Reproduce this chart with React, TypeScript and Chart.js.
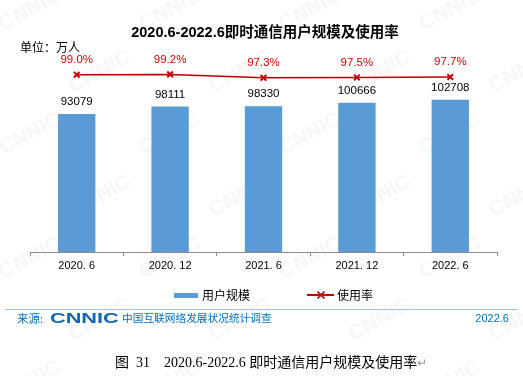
import React, { useEffect, useRef } from "react";
import { Chart, registerables } from "chart.js";

Chart.register(...registerables);

const categories = ["2020. 6", "2020. 12", "2021. 6", "2021. 12", "2022. 6"];
const users = [93079, 98111, 98330, 100666, 102708];
const rates = [99.0, 99.2, 97.3, 97.5, 97.7];
const seriesNames = ["用户规模", "使用率"];
const titleText = "2020.6-2022.6即时通信用户规模及使用率";
const unitText = "单位：万人";
const sourceLabel = "来源:";
const sourceName = "中国互联网络发展状况统计调查";
const sourceDate = "2022.6";
const captionText = "图  31    2020.6-2022.6 即时通信用户规模及使用率";

const BAR_COLOR = "#5B9BD5";
const LINE_COLOR = "#C00000";
const LABEL_RED = "#D00000";
const BLUE_TEXT = "#0070C0";
const SANS = "'Liberation Sans', Arial, 'Noto Sans CJK SC', sans-serif";
const CJK = "'Noto Sans CJK SC', 'Liberation Sans', sans-serif";

const watermarkPlugin = {
  id: "watermark",
  beforeDraw(chart: any) {
    const ctx = chart.ctx;
    ctx.save();
    ctx.fillStyle = "rgba(0,0,0,0.035)";
    ctx.font = "bold 21px " + SANS;
    ctx.textAlign = "center";
    ctx.textBaseline = "middle";
    let row = 0;
    for (let y = 10; y < 420; y += 62) {
      const off = row % 2 === 0 ? 0 : 70;
      for (let x = 30 + off - 140; x < 600; x += 140) {
        ctx.save();
        ctx.translate(x, y);
        ctx.rotate(-0.5);
        ctx.fillText("CNNIC", 0, 0);
        ctx.restore();
      }
      row++;
    }
    ctx.restore();
  },
};

const valueLabelPlugin = {
  id: "valueLabels",
  afterDatasetsDraw(chart: any) {
    const ctx = chart.ctx;
    ctx.save();
    ctx.textAlign = "center";
    ctx.textBaseline = "middle";
    ctx.font = "11.5px " + SANS;
    ctx.fillStyle = "#000";
    chart.getDatasetMeta(0).data.forEach((b: any, i: number) => {
      ctx.fillText(String(users[i]), b.x, b.y - 12);
    });
    ctx.fillStyle = LABEL_RED;
    chart.getDatasetMeta(1).data.forEach((p: any, i: number) => {
      ctx.fillText(rates[i].toFixed(1) + "%", p.x, p.y - 15);
    });
    ctx.restore();
  },
};

function ChartCanvas() {
  const ref = useRef<HTMLCanvasElement | null>(null);
  useEffect(() => {
    if (!ref.current) return;
    const chart = new Chart(ref.current, {
      type: "bar",
      data: {
        labels: categories,
        datasets: [
          {
            type: "bar",
            label: seriesNames[0],
            data: users,
            backgroundColor: BAR_COLOR,
            yAxisID: "y",
            barPercentage: 0.4,
            categoryPercentage: 1,
            order: 2,
          } as any,
          {
            type: "line",
            label: seriesNames[1],
            data: rates,
            borderColor: LINE_COLOR,
            borderWidth: 1.5,
            pointStyle: "crossRot",
            pointRadius: 4,
            pointBorderColor: LINE_COLOR,
            pointBorderWidth: 2,
            pointBackgroundColor: LINE_COLOR,
            yAxisID: "y2",
            order: 1,
          } as any,
        ],
      },
      options: {
        animation: false,
        responsive: false,
        devicePixelRatio: 1,
        layout: { padding: { left: 30, right: 26, top: 52, bottom: 100.8 } },
        plugins: {
          legend: { display: false },
          title: { display: false },
          tooltip: { enabled: false },
        },
        scales: {
          x: {
            grid: {
              display: true,
              drawOnChartArea: false,
              offset: true,
              tickLength: 4,
              color: "#8c8c8c",
            },
            border: { color: "#8c8c8c", width: 1 },
            ticks: {
              color: "#000",
              padding: 3,
              font: { size: 11, family: SANS },
            },
          },
          y: { display: false, min: 0, max: 134862 },
          y2: { display: false, min: 0, max: 111.7, position: "right" },
        },
      } as any,
      plugins: [watermarkPlugin, valueLabelPlugin],
    });
    return () => chart.destroy();
  }, []);
  return (
    <canvas
      ref={ref}
      width={523}
      height={376}
      style={{ position: "absolute", left: 0, top: 0, width: 523, height: 376 }}
    />
  );
}

const abs = (s: React.CSSProperties): React.CSSProperties => ({
  position: "absolute",
  whiteSpace: "pre",
  margin: 0,
  ...s,
});

export default function App() {
  return (
    <div style={abs({ left: 0, top: 0, width: 523, height: 376, background: "#fff", overflow: "hidden" })}>
      <ChartCanvas />
      <div
        style={abs({
          left: 0,
          width: 530,
          top: 22,
          textAlign: "center",
          font: "bold 14.5px/20px " + SANS,
          color: "#000",
        })}
      >
        {titleText}
      </div>
      <div style={abs({ left: 20, top: 38, font: "12px/18px " + CJK, color: "#000" })}>{unitText}</div>

      {/* legend */}
      <div style={abs({ left: 174, top: 293, width: 24, height: 5, background: BAR_COLOR })} />
      <div style={abs({ left: 202, top: 286, font: "12px/18px " + CJK, color: "#000" })}>{seriesNames[0]}</div>
      <div style={abs({ left: 307, top: 294, width: 27, height: 1.5, background: LINE_COLOR })} />
      <svg style={abs({ left: 317, top: 291, width: 8, height: 8 })} width={8} height={8}>
        <line x1={0.5} y1={0.5} x2={7.5} y2={7.5} stroke={LINE_COLOR} strokeWidth={1.6} />
        <line x1={7.5} y1={0.5} x2={0.5} y2={7.5} stroke={LINE_COLOR} strokeWidth={1.6} />
      </svg>
      <div style={abs({ left: 337, top: 286, font: "12px/18px " + CJK, color: "#000" })}>{seriesNames[1]}</div>

      {/* footer */}
      <div style={abs({ left: 5, top: 309, width: 513, height: 1, background: "#9DC3E6" })} />
      <div style={abs({ left: 17, top: 310, font: "11.5px/16px " + CJK, color: BLUE_TEXT })}>{sourceLabel}</div>
      <div
        style={abs({
          left: 50,
          top: 309,
          font: "bold 15.5px/18px " + SANS,
          color: "#1565B0",
          transform: "scaleX(1.4)",
          transformOrigin: "0 0",
          letterSpacing: "0px",
        })}
      >
        CNNIC
      </div>
      <div style={abs({ left: 122, top: 310, font: "10.7px/16px " + CJK, color: BLUE_TEXT })}>{sourceName}</div>
      <div style={abs({ right: 14, top: 310, font: "11px/16px " + SANS, color: BLUE_TEXT })}>{sourceDate}</div>

      {/* caption */}
      <div style={abs({ left: 115, top: 353, font: "14px/20px 'Liberation Serif', 'Times New Roman', 'Noto Sans CJK SC', serif", color: "#000" })}>
        {captionText}
        <span style={{ color: "#999", fontSize: 12 }}>↵</span>
      </div>
    </div>
  );
}
